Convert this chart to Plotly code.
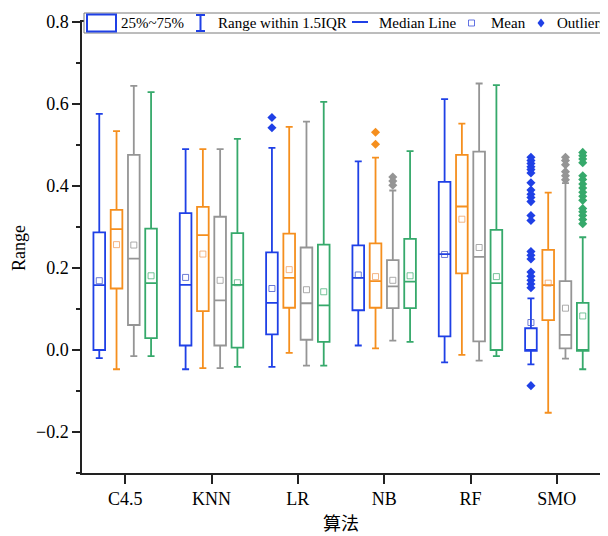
import plotly.graph_objects as go

# ---------------- data ----------------
groups = ["C4.5", "KNN", "LR", "NB", "RF", "SMO"]
series_names = ["Series 1", "Series 2", "Series 3", "Series 4"]
colors = ["#1F40E6", "#F58F1E", "#959595", "#36A96B"]
mean_colors = ["rgba(60,80,200,0.75)", "rgba(240,150,80,0.7)", "rgba(150,150,150,0.8)", "rgba(60,170,110,0.7)"]

s1_upper = [0.576, 0.490, 0.493, 0.460, 0.612, 0.126]
s1_q3 = [0.287, 0.334, 0.238, 0.255, 0.410, 0.053]
s1_median = [0.158, 0.159, 0.115, 0.176, 0.234, 0.000]
s1_q1 = [0.000, 0.011, 0.038, 0.097, 0.033, -0.002]
s1_lower = [-0.020, -0.047, -0.041, 0.011, -0.030, -0.035]
s1_mean = [0.169, 0.177, 0.150, 0.183, 0.233, 0.067]

s2_upper = [0.534, 0.490, 0.544, 0.469, 0.552, 0.384]
s2_q3 = [0.342, 0.349, 0.284, 0.260, 0.476, 0.244]
s2_median = [0.295, 0.280, 0.176, 0.168, 0.350, 0.158]
s2_q1 = [0.150, 0.095, 0.103, 0.103, 0.187, 0.073]
s2_lower = [-0.047, -0.044, -0.007, 0.004, -0.012, -0.153]
s2_mean = [0.257, 0.234, 0.196, 0.179, 0.319, 0.163]

s3_upper = [0.644, 0.490, 0.557, 0.389, 0.650, 0.407]
s3_q3 = [0.476, 0.325, 0.250, 0.219, 0.484, 0.168]
s3_median = [0.223, 0.121, 0.114, 0.155, 0.227, 0.037]
s3_q1 = [0.061, 0.011, 0.025, 0.102, 0.021, 0.004]
s3_lower = [-0.015, -0.044, -0.038, 0.023, -0.026, -0.021]
s3_mean = [0.256, 0.170, 0.147, 0.170, 0.250, 0.102]

s4_upper = [0.629, 0.515, 0.605, 0.485, 0.646, 0.275]
s4_q3 = [0.296, 0.285, 0.257, 0.271, 0.293, 0.115]
s4_median = [0.163, 0.159, 0.109, 0.167, 0.163, -0.002]
s4_q1 = [0.029, 0.006, 0.020, 0.102, 0.000, -0.002]
s4_lower = [-0.015, -0.041, -0.038, 0.020, -0.015, -0.047]
s4_mean = [0.181, 0.164, 0.142, 0.181, 0.179, 0.083]

# outliers: group name + value
s1_out_groups = ["LR", "LR"] + ["SMO"] * 22
s1_out_values = [0.567, 0.542,
                 0.470, 0.462, 0.455, 0.447, 0.440, 0.432, 0.408, 0.390, 0.380, 0.372,
                 0.362, 0.328, 0.316, 0.240, 0.231, 0.222, 0.190, 0.180, 0.170, 0.161,
                 0.152, -0.087]
s2_out_groups = ["NB", "NB"]
s2_out_values = [0.531, 0.502]
s3_out_groups = ["NB", "NB", "NB", "SMO", "SMO", "SMO", "SMO", "SMO", "SMO"]
s3_out_values = [0.422, 0.412, 0.402, 0.470, 0.462, 0.452, 0.435, 0.425, 0.415]
s4_out_groups = ["SMO"] * 16
s4_out_values = [0.482, 0.474, 0.466, 0.457, 0.425, 0.416, 0.405, 0.395, 0.385,
                 0.375, 0.365, 0.345, 0.337, 0.328, 0.318, 0.308]

legend_labels = ["25%~75%", "Range within 1.5IQR", "Median Line", "Mean", "Outliers"]
x_title = "算法"
y_title = "Range"

series = [
    (s1_upper, s1_q3, s1_median, s1_q1, s1_lower, s1_mean, s1_out_groups, s1_out_values),
    (s2_upper, s2_q3, s2_median, s2_q1, s2_lower, s2_mean, s2_out_groups, s2_out_values),
    (s3_upper, s3_q3, s3_median, s3_q1, s3_lower, s3_mean, s3_out_groups, s3_out_values),
    (s4_upper, s4_q3, s4_median, s4_q1, s4_lower, s4_mean, s4_out_groups, s4_out_values),
]

# ---------------- layout constants ----------------
# the page body adds an 8px margin, so the figure is 8px smaller and
# margins are measured from that offset
PAGE_OFF = 8
W, H = 608 - PAGE_OFF, 536 - PAGE_OFF
PLOT_L, PLOT_R, PLOT_T, PLOT_B = 82, 600, 22, 473   # in window pixels
ML = PLOT_L - PAGE_OFF
MR = W - (PLOT_R - PAGE_OFF)
MT = PLOT_T - PAGE_OFF
MB = H - (PLOT_B - PAGE_OFF)
offsets = [-0.3, -0.1, 0.1, 0.3]
box_w = 0.135
FONT = "Liberation Serif, Times New Roman, serif"

fig = go.Figure()
gidx = {g: i for i, g in enumerate(groups)}

for j, (up, q3, med, q1, lo, mean, og, ov) in enumerate(series):
    xs = [i + offsets[j] for i in range(len(groups))]
    fig.add_trace(go.Box(
        x=xs, q1=q1, median=med, q3=q3, lowerfence=lo, upperfence=up,
        orientation="v", width=box_w, whiskerwidth=0.6,
        line=dict(color=colors[j], width=1.8), fillcolor="rgba(255,255,255,0)",
        boxpoints=False, name=series_names[j], showlegend=False, hoverinfo="skip"))
    fig.add_trace(go.Scatter(
        x=xs, y=mean, mode="markers", showlegend=False, hoverinfo="skip",
        marker=dict(symbol="square-open", size=6, color=mean_colors[j], line=dict(width=1))))
    fig.add_trace(go.Scatter(
        x=[gidx[g] + offsets[j] for g in og], y=ov, mode="markers",
        showlegend=False, hoverinfo="skip",
        marker=dict(symbol="diamond", size=7, color=colors[j], line=dict(width=0))))

# ---------------- manual legend (window pixel -> paper) ----------------
pw, ph = PLOT_R - PLOT_L, PLOT_B - PLOT_T
def px(x):
    return (x - PLOT_L) / pw
def py(y):
    return (PLOT_B - y) / ph

BLUE = colors[0]
shapes = [
    dict(type="rect", xref="paper", yref="paper", x0=px(84), x1=px(608), y0=py(33), y1=py(13),
         fillcolor="white", line=dict(color="#7a7a7a", width=1)),
    dict(type="rect", xref="paper", yref="paper", x0=px(87), x1=px(116), y0=py(31.5), y1=py(14.5),
         fillcolor="white", line=dict(color=BLUE, width=2)),
    dict(type="line", xref="paper", yref="paper", x0=px(200.5), x1=px(200.5), y0=py(31), y1=py(15),
         line=dict(color=BLUE, width=2)),
    dict(type="line", xref="paper", yref="paper", x0=px(196), x1=px(205), y0=py(15), y1=py(15),
         line=dict(color=BLUE, width=2)),
    dict(type="line", xref="paper", yref="paper", x0=px(196), x1=px(205), y0=py(31), y1=py(31),
         line=dict(color=BLUE, width=2)),
    dict(type="line", xref="paper", yref="paper", x0=px(352), x1=px(368), y0=py(22), y1=py(22),
         line=dict(color=BLUE, width=2)),
    dict(type="rect", xref="paper", yref="paper", x0=px(468.5), x1=px(474.5), y0=py(26), y1=py(20),
         fillcolor="white", line=dict(color="rgba(60,80,220,0.8)", width=1)),
    dict(type="path", xref="paper", yref="paper",
         path=f"M {px(541)},{py(18.5)} L {px(544.5)},{py(23)} L {px(541)},{py(27.5)} L {px(537.5)},{py(23)} Z",
         fillcolor=BLUE, line=dict(color=BLUE, width=0)),
]
annotations = []
for label, xpos in zip(legend_labels, [119, 216, 377, 489, 555]):
    annotations.append(dict(text=label, x=px(xpos), y=py(23), xref="paper", yref="paper",
                            xanchor="left", yanchor="middle", showarrow=False,
                            font=dict(family=FONT, size=15, color="black")))
# axis titles
annotations.append(dict(text=y_title, x=px(19), y=py(248), xref="paper", yref="paper",
                        xanchor="center", yanchor="middle", textangle=-90, showarrow=False,
                        font=dict(family=FONT, size=18, color="black")))
annotations.append(dict(text=x_title, x=px(341), y=py(524), xref="paper", yref="paper",
                        xanchor="center", yanchor="middle", showarrow=False,
                        font=dict(family="Liberation Serif, Noto Sans CJK SC", size=18, color="black")))

fig.update_layout(
    width=W, height=H, margin=dict(l=ML, r=MR, t=MT, b=MB, autoexpand=False),
    paper_bgcolor="white", plot_bgcolor="white",
    font=dict(family=FONT, size=18, color="black"),
    shapes=shapes, annotations=annotations,
    xaxis=dict(range=[-0.5, 5.5], tickmode="array", tickvals=list(range(len(groups))), ticktext=groups,
               ticks="outside", ticklen=9, tickwidth=1.5, tickcolor="#222",
               showline=True, linewidth=1.5, linecolor="#222", mirror=True,
               showgrid=False, zeroline=False, automargin=False),
    yaxis=dict(range=[-0.3, 0.8], dtick=0.2, tick0=0, tickformat=".1f",
               ticks="outside", ticklen=8, tickwidth=1.5, tickcolor="#222",
               minor=dict(dtick=0.1, ticks="outside", ticklen=4, tickcolor="#222", tickwidth=1.5),
               showline=True, linewidth=1.5, linecolor="#222", mirror=True,
               showgrid=False, zeroline=False, automargin=False),
)

fig.write_html("out.html")
